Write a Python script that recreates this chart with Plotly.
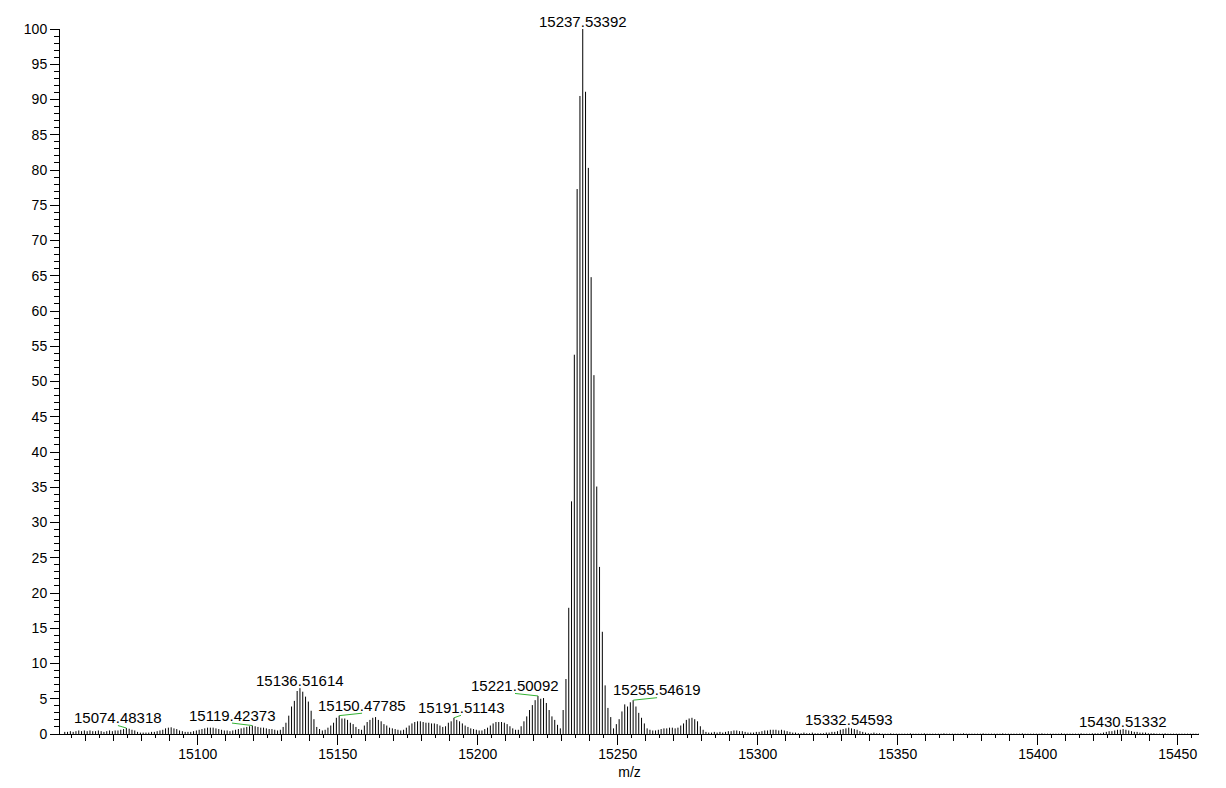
import plotly.graph_objects as go

# centroid sticks, 1 Da apart, starting at m/z 15052.5
mz_start = 15052.5
intensity = [
    0.3, 0.3, 0.4, 0.3, 0.4, 0.5, 0.4, 0.5, 0.4, 0.5,        # 15052
    0.4, 0.4, 0.5, 0.4, 0.3, 0.4, 0.5, 0.4, 0.5, 0.5,        # 15062
    0.6, 0.7, 0.85, 0.75, 0.6, 0.5, 0.3, 0.2, 0.2, 0.2,      # 15072
    0.2, 0.3, 0.3, 0.4, 0.5, 0.6, 0.8, 0.9, 0.95, 0.8,       # 15082
    0.7, 0.5, 0.4, 0.3, 0.3, 0.3, 0.4, 0.5, 0.6, 0.7,        # 15092
    0.8, 0.9, 0.9, 0.9, 0.8, 0.7, 0.6, 0.5, 0.5, 0.4,        # 15102
    0.5, 0.6, 0.7, 0.8, 0.9, 1.0, 1.1, 1.2, 1.1, 1.0,        # 15112
    0.9, 0.9, 0.8, 0.7, 0.7, 0.6, 0.5, 0.6, 1.0, 1.6,        # 15122
    2.6, 3.9, 4.7, 6.1, 6.5, 6.0, 5.3, 4.6, 3.3, 2.1,        # 15132
    1.0, 0.7, 0.5, 0.6, 0.9, 1.2, 1.6, 2.3, 2.6, 2.2,        # 15142
    2.2, 2.0, 1.6, 1.4, 1.0, 0.7, 0.6, 1.2, 1.7, 2.0,        # 15152
    2.3, 2.4, 2.0, 1.8, 1.4, 1.2, 0.9, 0.8, 0.7, 0.6,        # 15162
    0.5, 0.6, 0.9, 1.2, 1.5, 1.7, 1.8, 1.8, 1.7, 1.6,        # 15172
    1.6, 1.5, 1.5, 1.4, 1.2, 1.0, 1.1, 1.6, 1.8, 2.3,        # 15182
    2.0, 1.8, 1.5, 1.2, 1.0, 0.8, 0.7, 0.6, 0.5, 0.5,        # 15192
    0.7, 0.9, 1.2, 1.5, 1.7, 1.7, 1.7, 1.6, 1.4, 1.1,        # 15202
    0.8, 0.6, 0.6, 1.1, 1.8, 2.5, 3.4, 4.1, 4.8, 5.4,        # 15212
    5.0, 5.1, 4.4, 3.4, 2.5, 2.0, 1.3, 0.8, 3.4, 7.8,        # 15222
    17.9, 33.0, 53.8, 77.3, 90.5, 100.0, 91.1, 80.3, 64.8, 50.9,  # 15232
    35.1, 23.7, 14.5, 6.9, 3.7, 2.4, 0.8, 1.4, 2.1, 3.2,     # 15242
    4.2, 3.9, 4.5, 4.8, 3.9, 3.0, 2.3, 1.5, 0.8, 0.6,        # 15252
    0.5, 0.5, 0.6, 0.7, 0.8, 0.8, 0.9, 0.9, 0.8, 0.9,        # 15262
    1.2, 1.5, 2.0, 2.2, 2.3, 2.1, 1.8, 1.1, 0.6, 0.3,        # 15272
    0.2, 0.2, 0.3, 0.2, 0.3, 0.2, 0.3, 0.4, 0.4, 0.5,        # 15282
    0.5, 0.4, 0.4, 0.3, 0.2, 0.2, 0.2, 0.3, 0.3, 0.4,        # 15292
    0.5, 0.5, 0.6, 0.6, 0.6, 0.5, 0.6, 0.5, 0.4, 0.3,        # 15302
    0.2, 0.2, 0.1, 0.1, 0.2, 0.1, 0.1, 0.2, 0.1, 0.1,        # 15312
    0.1, 0.1, 0.2, 0.2, 0.3, 0.3, 0.4, 0.6, 0.7, 0.8,        # 15322
    0.9, 0.8, 0.7, 0.6, 0.4, 0.3, 0.2, 0.1, 0.1, 0.2,        # 15332
    0.1, 0.1, 0.05, 0.05, 0.05, 0.1, 0.05, 0.05, 0.05, 0.05,  # 15342
    0.05, 0.05, 0.1, 0.05, 0.05, 0.05, 0.05, 0.1, 0.05, 0.05,  # 15352
    0.05, 0.05, 0.05, 0.05, 0.1, 0.05, 0.05, 0.05, 0.05, 0.05,  # 15362
    0.05, 0.1, 0.05, 0.05, 0.05, 0.05, 0.05, 0.05, 0.1, 0.05,  # 15372
    0.05, 0.05, 0.05, 0.05, 0.05, 0.1, 0.05, 0.05, 0.05, 0.05,  # 15382
    0.05, 0.05, 0.1, 0.05, 0.05, 0.05, 0.05, 0.05, 0.05, 0.1,  # 15392
    0.05, 0.05, 0.05, 0.05, 0.05, 0.05, 0.1, 0.05, 0.05, 0.05,  # 15402
    0.05, 0.05, 0.05, 0.1, 0.05, 0.05, 0.05, 0.1, 0.1, 0.1,  # 15412
    0.1, 0.2, 0.3, 0.4, 0.4, 0.5, 0.6, 0.6, 0.7, 0.6,        # 15422
    0.5, 0.4, 0.3, 0.3, 0.2, 0.2, 0.2, 0.1, 0.1, 0.1,        # 15432
    0.05, 0.05, 0.05, 0.1, 0.05, 0.05, 0.05, 0.05, 0.05, 0.05,  # 15442
    0.05, 0.05, 0.05, 0.05, 0.05, 0.05,                      # 15452
]
mz = [mz_start + i for i in range(len(intensity))]

peak_labels = ["15074.48318", "15119.42373", "15136.51614", "15150.47785",
               "15191.51143", "15221.50092", "15237.53392", "15255.54619",
               "15332.54593", "15430.51332"]
# where the label text sits relative to its peak (m/z units)
label_shift = [-3.0, -7.2, 0, 8.2, 2.5, -8.2, 0, 8.5, 0, 0]

FONT = "Liberation Sans, Arial, sans-serif"

# sticks as one path: x,x,None ...
sx, sy = [], []
for m, h in zip(mz, intensity):
    sx += [m, m, None]
    sy += [0, h, None]

fig = go.Figure()
fig.add_trace(go.Scatter(x=sx, y=sy, mode="lines",
                         line=dict(color="black", width=1),
                         hoverinfo="skip", showlegend=False))

for lab, dx in zip(peak_labels, label_shift):
    pm = float(lab)
    i = int(round(pm - mz_start))
    h = intensity[i]
    if dx:
        fig.add_trace(go.Scatter(x=[pm, pm + dx], y=[h, h + 0.35], mode="lines",
                                 line=dict(color="#33b233", width=1),
                                 hoverinfo="skip", showlegend=False))
    fig.add_annotation(x=pm + dx, y=h + (0.35 if dx else 0), text=lab,
                       showarrow=False, yanchor="middle", yshift=8,
                       font=dict(family=FONT, size=15, color="black"))

# overlay axis only for the medium ticks every 10
fig.add_trace(go.Scatter(x=[15100], y=[0], xaxis="x2", mode="markers",
                         marker=dict(opacity=0), hoverinfo="skip",
                         showlegend=False))

# page body has an 8px margin, so the figure is shrunk by that much
fig.update_layout(
    width=1210, height=772,
    margin=dict(l=52, r=19, t=21, b=46),
    paper_bgcolor="white", plot_bgcolor="white",
    font=dict(family=FONT, size=14, color="black"),
    xaxis=dict(range=[15050.8, 15457.6], showgrid=False, zeroline=False,
               showline=True, linecolor="black", linewidth=1,
               ticks="outside", ticklen=10, tickcolor="black",
               tick0=15100, dtick=50, tickformat="d", ticklabelstandoff=-3,
               automargin=False,
               minor=dict(ticks="outside", ticklen=3, dtick=5,
                          tickcolor="black", showgrid=False),
               title=dict(text="m/z", font=dict(size=14), standoff=6)),
    xaxis2=dict(overlaying="x", matches="x", anchor="y", side="bottom",
                showgrid=False, zeroline=False, showline=False,
                showticklabels=False, ticks="outside", ticklen=6,
                tickcolor="black", tick0=15100, dtick=10, automargin=False),
    yaxis=dict(range=[0, 100], showgrid=False, zeroline=False,
               showline=True, linecolor="black", linewidth=1,
               ticks="outside", ticklen=9, tickcolor="black",
               tick0=0, dtick=5, automargin=False,
               minor=dict(ticks="outside", ticklen=5, dtick=1,
                          tickcolor="black", showgrid=False)),
)

fig.write_html("out.html")
